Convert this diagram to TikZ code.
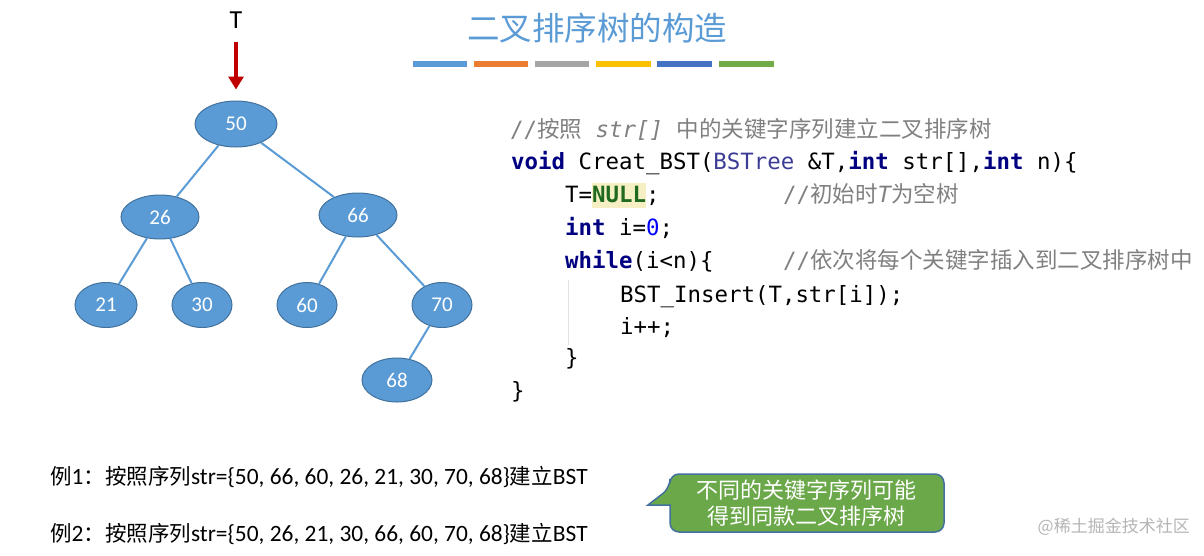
\documentclass[tikz,border=0pt]{standalone}
\usepackage{fontspec}
\setmainfont{Carlito}
\newfontfamily\cjk{Noto Sans CJK SC}
\newfontfamily\mono{DejaVu Sans Mono}
\usetikzlibrary{shapes.geometric,arrows.meta}
\definecolor{nodefill}{HTML}{5B9BD5}
\definecolor{nodeedge}{HTML}{41719C}
\definecolor{edgec}{HTML}{5B9BD5}
\definecolor{titlec}{HTML}{5B9BD5}
\definecolor{darkred}{HTML}{C00000}
\definecolor{barA}{HTML}{5B9BD5}
\definecolor{barB}{HTML}{ED7D31}
\definecolor{barC}{HTML}{A5A5A5}
\definecolor{barD}{HTML}{FFC000}
\definecolor{barE}{HTML}{4472C4}
\definecolor{barF}{HTML}{70AD47}
\definecolor{kw}{HTML}{000080}
\definecolor{typ}{HTML}{3C3C96}
\definecolor{num}{HTML}{0000FF}
\definecolor{nullc}{HTML}{1F6A1F}
\definecolor{hl}{HTML}{F6EFC4}
\definecolor{cmt}{HTML}{808080}
\definecolor{guide}{HTML}{E2E2E2}
\definecolor{callfill}{HTML}{6BA84A}
\definecolor{calledge}{HTML}{41719C}
\definecolor{wm}{HTML}{B5B5B5}
\newcommand{\cj}[1]{{\cjk\fontsize{21.5}{26}\selectfont #1}}
\begin{document}
\begin{tikzpicture}[x=1pt,y=-1pt,
  tnode/.style={ellipse,draw=nodeedge,line width=1pt,fill=nodefill,inner sep=0pt,
    minimum width=#1,minimum height=45pt,text=white,font=\fontsize{21}{24}\selectfont},
  tnode/.default=62pt,
  tedge/.style={draw=edgec,line width=2pt},
  code/.style={anchor=base west,inner sep=0pt,font=\mono\fontsize{22.4}{26}\selectfont},
  ex/.style={anchor=base west,inner sep=0pt,font=\fontsize{23.4}{26}\selectfont},
  bar/.style={line width=6pt}]
\useasboundingbox (0,0) rectangle (1204,555);

% title
\node[text=titlec,font=\cjk\fontsize{32.5}{36}\selectfont,inner sep=0pt] (title) at (597,28) {二叉排序树的构造};
\draw[bar,barA] (413,64) -- (467,64);
\draw[bar,barB] (474,64) -- (528,64);
\draw[bar,barC] (535,64) -- (589,64);
\draw[bar,barD] (596,64) -- (651,64);
\draw[bar,barE] (657,64) -- (712,64);
\draw[bar,barF] (719,64) -- (774,64);

% tree
\node[font=\fontsize{26}{28}\selectfont,inner sep=0pt] (T) at (236,20) {T};
\node[tnode=82pt,minimum height=46pt] (n50) at (236,124) {50};
\node[tnode=78pt,minimum height=44pt] (n26) at (160,217) {26};
\node[tnode=78pt,minimum height=44pt] (n66) at (358,215) {66};
\node[tnode=62pt] (n21) at (106,305) {21};
\node[tnode=60pt] (n30) at (202,305) {30};
\node[tnode=60pt] (n60) at (307,305) {60};
\node[tnode=60pt] (n70) at (442,305) {70};
\node[tnode=70pt,minimum height=44pt] (n68) at (397,380) {68};
\draw[darkred,line width=4.5pt,-{Triangle[width=15pt,length=13pt]},shorten <=13pt,shorten >=11pt] (T) -- (n50);
\draw[tedge] (n50) -- (n26);
\draw[tedge] (n50) -- (n66);
\draw[tedge] (n26) -- (n21);
\draw[tedge] (n26) -- (n30);
\draw[tedge] (n66) -- (n60);
\draw[tedge] (n66) -- (n70);
\draw[tedge] (n70) -- (n68);

% code
\fill[hl] (592,183) rectangle (646,208);
\draw[guide,line width=1pt] (568,280) -- (568,345);
\node[code] (c1) at (510,137) {\color{cmt}//{\cjk\fontsize{22.5}{26}\selectfont 按照} {\itshape str[]} {\cjk\fontsize{22.5}{26}\selectfont 中的关键字序列建立二叉排序树}};
\node[code] (c2) at (511,169) {{\bfseries\color{kw}void} Creat\_BST({\color{typ}BSTree} \&T,{\bfseries\color{kw}int} str[],{\bfseries\color{kw}int} n)\{};
\node[code] (c3) at (565,202) {T={\bfseries\color{nullc}NULL};};
\node[code] (c3b) at (783,202) {\color{cmt}//{\cjk\fontsize{22.5}{26}\selectfont 初始时}{\itshape T}{\cjk\fontsize{22.5}{26}\selectfont 为空树}};
\node[code] (c4) at (565,235) {{\bfseries\color{kw}int} i={\color{num}0};};
\node[code] (c5) at (565,268) {{\bfseries\color{kw}while}(i<n)\{};
\node[code] (c5b) at (783,268) {\color{cmt}//{\cjk\fontsize{22.5}{26}\selectfont 依次将每个关键字插入到二叉排序树中}};
\node[code] (c6) at (620,302) {BST\_Insert(T,str[i]);};
\node[code] (c7) at (620,334) {i++;};
\node[code] (c8) at (565,365) {\}};
\node[code] (c9) at (511,398) {\}};

% examples
\node[ex] (e1) at (50,484) {\cj{例}1\cj{：按照序列}str=\{50, 66, 60, 26, 21, 30, 70, 68\}\cj{建立}BST};
\node[ex] (e2) at (50,541) {\cj{例}2\cj{：按照序列}str=\{50, 26, 21, 30, 66, 60, 70, 68\}\cj{建立}BST};

% callout
\draw[fill=callfill,draw=calledge,line width=1.5pt]
  (670,505) [rounded corners=9pt] -- (670,532) -- (944,532) -- (944,474) -- (670,474) -- (670,488)
  [sharp corners] -- (648,505) -- cycle;
\node[text=white,align=center,font=\cjk\fontsize{22}{26}\selectfont,inner sep=0pt] (callout) at (806,503) {不同的关键字序列可能\\得到同款二叉排序树};

% watermark
\node[anchor=east,text=wm,font=\cjk\fontsize{17}{20}\selectfont,inner sep=0pt] (wm) at (1190,527) {@稀土掘金技术社区};
\end{tikzpicture}
\end{document}
